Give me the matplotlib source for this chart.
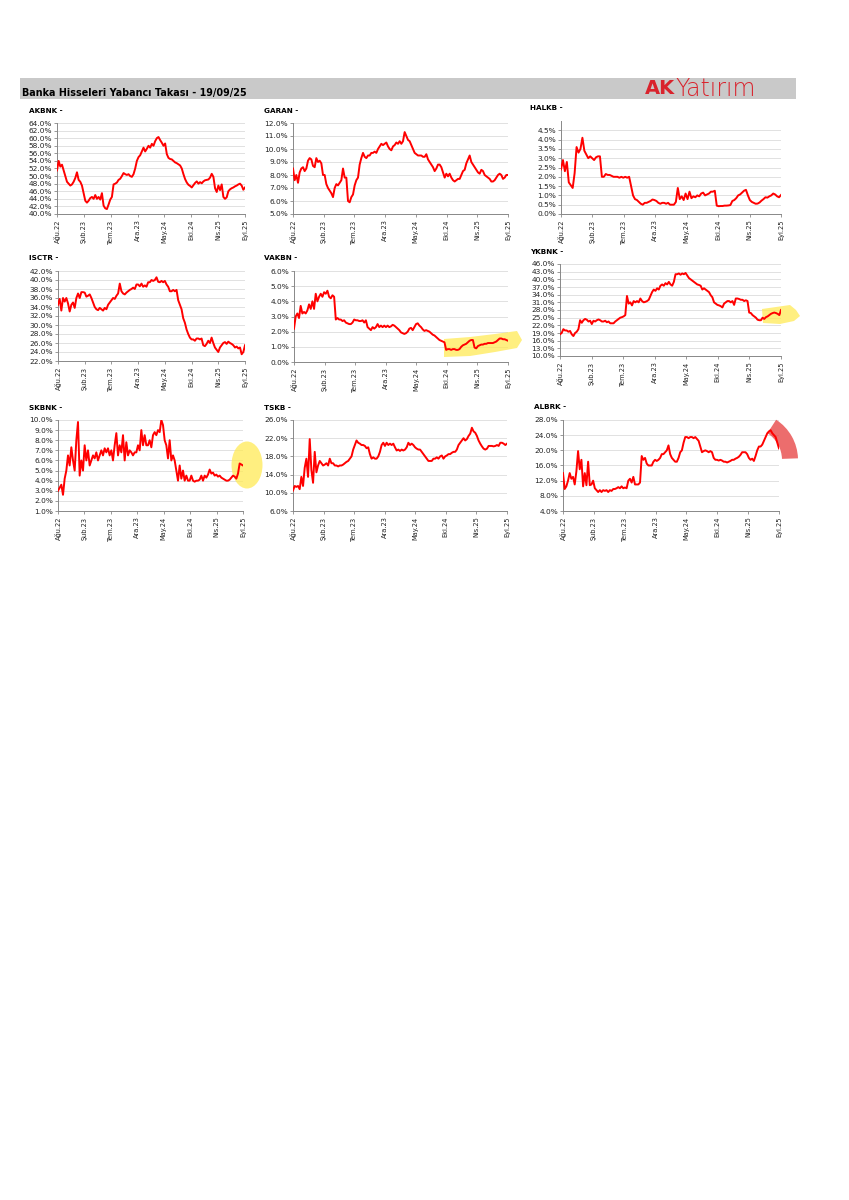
#!/usr/bin/env python3
"""Banka hisseleri yabanci takasi - 3x3 panel grafigi."""

import matplotlib

matplotlib.use("Agg")

import matplotlib.pyplot as plt
import pandas as pd
from matplotlib.patches import Ellipse, Polygon, Rectangle, Wedge
from matplotlib.ticker import FixedLocator, FuncFormatter
from matplotlib.transforms import Affine2D

W, H = 849, 1200
RED = "#FF0000"

START, END = "2022-08-19", "2025-09-19"
TICK_LABELS = ["Ağu.22", "Şub.23", "Tem.23", "Ara.23", "May.24", "Eki.24", "Nis.25", "Eyl.25"]

AKBNK = [51.5, 54, 52.5, 53, 51.5, 50, 48.5, 48, 47.5, 47.8, 48.5, 49.5, 51, 49, 48.5, 47.5,
         45.5, 43.5, 43, 43.5, 44.2, 44.5, 44, 45, 44, 44.5, 43.8, 45.5, 42.2, 41.5, 41.3, 42.5,
         43.8, 44.5, 47.8, 48, 48.3, 49, 49.3, 50, 50.8, 50.5, 50.3, 50.5, 50, 49.8, 50.5, 52,
         54, 55, 55.5, 56.5, 57.5, 56.5, 57.2, 58, 57.5, 58.5, 58, 59.2, 60, 60.3, 59.5, 58.8,
         58, 58.6, 55.8, 54.8, 54.5, 54.4, 54, 53.6, 53.4, 53.1, 52.8, 52, 50.5, 49.2, 48.3, 47.7,
         47.4, 47, 47.6, 48.2, 48.6, 48, 48.4, 48.1, 48.6, 48.9, 49, 49.1, 49.6, 50.6, 49.8, 46.8,
         45.8, 47.5, 46.3, 47.8, 44.5, 44, 44.4, 46, 46.5, 46.8, 47, 47.3, 47.5, 47.8, 48, 47.5,
         46.4, 47]

GARAN = [8.5, 7.6, 8.0, 7.4, 8.2, 8.5, 8.6, 8.3, 8.5, 9.1, 9.3, 9.2, 8.7, 8.6, 9.3, 9.0, 9.1,
         8.9, 8.0, 8.0, 7.3, 7.0, 6.8, 6.6, 6.3, 7.0, 7.3, 7.2, 7.4, 7.6, 8.5, 7.8, 7.8, 6.0, 5.9,
         6.3, 6.5, 7.2, 7.6, 7.8, 8.8, 9.3, 9.7, 9.4, 9.3, 9.5, 9.5, 9.7, 9.7, 9.8, 9.7, 10.0,
         10.2, 10.4, 10.3, 10.4, 10.5, 10.2, 10.0, 9.9, 10.2, 10.3, 10.5, 10.4, 10.6, 10.4, 10.6,
         11.3, 11.0, 10.7, 10.6, 10.3, 10.0, 9.7, 9.6, 9.5, 9.5, 9.5, 9.4, 9.4, 9.6, 9.2, 9.0,
         8.8, 8.6, 8.3, 8.5, 8.8, 8.8, 8.6, 8.2, 7.8, 8.1, 7.9, 8.1, 7.8, 7.6, 7.5, 7.6, 7.7, 7.7,
         8.0, 8.3, 8.4, 8.9, 9.2, 9.5, 9.0, 8.8, 8.6, 8.4, 8.2, 8.1, 8.4, 8.3, 8.0, 7.9, 7.8, 7.7,
         7.5, 7.5, 7.6, 7.8, 8.0, 8.1, 8.0, 7.7, 7.8, 8.0, 8.0]

HALKB = [2.4, 2.9, 2.3, 2.8, 1.7, 1.55, 1.4, 2.2, 3.6, 3.3, 3.5, 4.1, 3.4, 3.2, 3.0, 3.1, 3.0,
         2.9, 3.05, 3.1, 3.1, 2.0, 2.0, 2.15, 2.1, 2.1, 2.05, 2.0, 2.0, 2.0, 1.95, 2.0, 1.95, 2.0,
         1.95, 2.0, 1.5, 1.0, 0.8, 0.75, 0.65, 0.55, 0.5, 0.6, 0.6, 0.65, 0.7, 0.78, 0.75, 0.7,
         0.6, 0.55, 0.6, 0.6, 0.55, 0.6, 0.5, 0.5, 0.5, 0.65, 1.4, 0.8, 0.95, 0.75, 1.1, 0.8, 1.2,
         0.85, 0.95, 0.9, 1.0, 0.95, 1.1, 1.15, 1.0, 1.05, 1.1, 1.2, 1.2, 1.25, 0.45, 0.42, 0.43,
         0.43, 0.45, 0.45, 0.46, 0.48, 0.7, 0.75, 0.85, 1.0, 1.05, 1.15, 1.25, 1.3, 1.0, 0.75,
         0.65, 0.6, 0.55, 0.56, 0.62, 0.72, 0.8, 0.9, 0.88, 0.95, 1.0, 1.1, 1.05, 0.95, 0.9, 1.02]

ISCTR = [34.5, 35.8, 33.2, 36.0, 35.2, 36.0, 34.8, 33.0, 34.5, 35.0, 33.8, 36.0, 37.0, 36.0,
         37.3, 37.3, 37.2, 36.3, 36.5, 36.8, 36.0, 35.0, 34.0, 33.5, 33.3, 33.8, 33.5, 33.2, 33.8,
         33.5, 34.5, 35.0, 35.5, 36.0, 35.8, 36.5, 37.0, 39.2, 37.5, 37.0, 36.8, 37.2, 37.5, 37.8,
         38.0, 38.3, 38.0, 39.0, 39.0, 38.6, 39.2, 38.5, 38.8, 38.5, 39.5, 39.5, 40.0, 39.8, 40.0,
         40.6, 39.6, 39.5, 39.8, 39.5, 39.8, 39.0, 38.5, 37.5, 37.5, 37.8, 37.5, 37.8, 35.5, 34.5,
         33.5, 31.5, 30.5, 29.0, 28.0, 27.2, 26.8, 26.8, 26.5, 27.0, 27.0, 26.8, 27.0, 25.5, 25.3,
         25.8, 26.5, 26.0, 27.2, 26.0, 25.0, 24.5, 24.0, 25.0, 25.5, 26.0, 26.2, 25.8, 26.3, 26.0,
         25.8, 25.5, 25.0, 25.2, 24.8, 25.0, 23.5, 24.0, 25.5]

VAKBN = [2.2, 3.0, 3.2, 2.9, 3.7, 3.2, 3.3, 3.2, 3.4, 3.8, 3.5, 4.0, 3.5, 4.5, 4.0, 4.3, 4.5,
         4.3, 4.6, 4.5, 4.7, 4.3, 4.2, 4.4, 4.3, 2.8, 2.9, 2.8, 2.8, 2.7, 2.75, 2.6, 2.55, 2.5,
         2.5, 2.6, 2.8, 2.75, 2.75, 2.7, 2.7, 2.75, 2.6, 2.75, 2.3, 2.2, 2.1, 2.3, 2.2, 2.3, 2.5,
         2.3, 2.4, 2.3, 2.4, 2.3, 2.4, 2.3, 2.35, 2.45, 2.4, 2.3, 2.2, 2.1, 1.95, 1.9, 1.85, 1.9,
         2.0, 2.2, 2.25, 2.1, 2.3, 2.5, 2.55, 2.4, 2.3, 2.15, 2.05, 2.1, 2.05, 2.0, 1.9, 1.8, 1.75,
         1.65, 1.55, 1.45, 1.4, 1.35, 1.3, 0.8, 0.85, 0.85, 0.8, 0.85, 0.85, 0.8, 0.8, 0.85, 1.0,
         1.1, 1.15, 1.2, 1.3, 1.4, 1.45, 1.45, 0.95, 0.9, 1.05, 1.1, 1.15, 1.15, 1.2, 1.2, 1.25,
         1.25, 1.25, 1.25, 1.3, 1.35, 1.45, 1.55, 1.55, 1.5, 1.5, 1.45, 1.4]

YKBNK = [18.5, 19.0, 20.5, 20.0, 20.0, 19.5, 19.8, 18.5, 17.8, 19.0, 19.5, 20.5, 24.0, 23.0,
         24.0, 24.5, 24.2, 23.5, 23.8, 22.5, 23.8, 23.5, 24.0, 24.3, 24.0, 23.5, 23.5, 23.8, 23.2,
         23.5, 22.8, 22.8, 22.8, 23.5, 24.0, 24.5, 25.0, 25.2, 25.5, 26.0, 33.5, 30.5, 31.0, 29.8,
         31.5, 31.0, 31.5, 31.0, 32.5, 31.5, 31.0, 31.2, 31.5, 32.0, 33.5, 35.0, 36.0, 35.5, 36.5,
         36.0, 37.5, 38.0, 37.5, 38.5, 38.0, 39.0, 38.0, 37.5, 39.0, 42.0, 42.0, 42.3, 41.8, 42.3,
         42.0, 42.5, 41.5, 40.5, 40.0, 39.5, 39.0, 38.5, 38.0, 37.8, 37.5, 36.0, 36.5, 36.0, 35.5,
         35.0, 33.8, 33.0, 31.0, 30.5, 30.0, 29.8, 29.5, 29.0, 30.5, 31.0, 31.5, 31.5, 31.0, 31.5,
         30.0, 32.5, 32.5, 32.3, 32.0, 32.0, 31.5, 31.8, 31.5, 27.0, 26.8, 26.0, 25.5, 25.0, 24.2,
         24.0, 24.0, 25.0, 24.5, 25.2, 25.5, 26.0, 26.5, 26.8, 27.0, 26.8, 26.5, 26.0, 28.0]

SKBNK = [3.0, 3.3, 3.6, 2.6, 4.2, 5.0, 6.5, 5.5, 7.3, 6.0, 5.0, 8.0, 9.8, 4.5, 6.0, 5.0, 7.5,
         6.0, 7.0, 5.5, 6.0, 6.5, 6.2, 6.8, 6.0, 6.5, 7.0, 6.5, 7.2, 6.8, 7.2, 6.5, 7.0, 6.0, 7.5,
         8.7, 6.5, 7.5, 6.8, 8.5, 6.0, 7.8, 6.5, 7.0, 6.8, 6.5, 6.8, 6.8, 7.5, 7.0, 9.0, 7.5, 8.5,
         7.5, 7.5, 8.0, 7.3, 8.5, 8.8, 8.5, 9.0, 8.8, 10.0, 9.5, 8.0, 7.5, 6.2, 8.0, 6.0, 6.5, 6.0,
         5.0, 4.0, 5.5, 4.2, 5.0, 4.0, 4.5, 4.0, 4.0, 4.5, 4.0, 3.9, 4.0, 4.0, 4.1, 4.5, 4.0, 4.5,
         4.3, 4.6, 5.1, 4.7, 4.8, 4.5, 4.6, 4.4, 4.5, 4.3, 4.2, 4.1, 4.0, 4.0, 4.1, 4.3, 4.5, 4.4,
         4.2, 4.7, 5.7, 5.6, 5.5]

TSKB = [10.5, 11.5, 11.3, 11.5, 10.8, 13.5, 11.5, 15.5, 17.5, 13.5, 21.8, 15.0, 12.2, 19.0,
        14.5, 16.0, 17.0, 16.5, 16.0, 16.2, 16.5, 16.0, 17.5, 16.5, 16.5, 16.0, 16.0, 15.8, 16.0,
        16.0, 16.2, 16.5, 16.8, 17.0, 17.5, 18.0, 19.5, 20.5, 21.5, 21.0, 20.8, 20.5, 20.5, 20.3,
        19.8, 20.0, 18.5, 17.5, 17.8, 17.5, 17.5, 18.0, 19.0, 20.5, 21.0, 20.3, 21.0, 20.5, 20.8,
        20.5, 20.8, 20.0, 19.3, 19.5, 19.2, 19.5, 19.3, 19.5, 20.0, 21.0, 20.5, 20.8, 20.5, 20.0,
        19.7, 19.5, 19.5, 19.0, 18.5, 18.0, 17.5, 17.0, 17.0, 17.0, 17.5, 17.5, 17.8, 17.5, 18.0,
        18.2, 17.5, 18.0, 18.2, 18.5, 18.5, 18.8, 19.0, 19.0, 19.5, 20.5, 21.0, 21.5, 22.0, 21.5,
        21.8, 22.5, 23.0, 24.3, 23.5, 23.2, 22.5, 21.5, 20.8, 20.2, 19.7, 19.5, 19.7, 20.3, 20.3,
        20.3, 20.2, 20.3, 20.5, 20.3, 21.0, 21.0, 20.8, 20.5, 20.8]

ALBRK = [14.0, 9.8, 10.5, 12.0, 14.0, 12.5, 13.0, 11.0, 14.5, 19.8, 15.0, 17.5, 10.5, 14.0,
         10.8, 17.0, 10.8, 11.0, 12.0, 10.0, 9.5, 9.0, 9.5, 9.0, 9.5, 9.3, 9.5, 9.0, 9.5, 9.3,
         9.8, 9.8, 10.0, 10.3, 10.0, 10.5, 10.0, 10.2, 10.0, 12.0, 12.5, 11.5, 13.0, 11.0, 11.0,
         11.0, 11.5, 18.5, 17.5, 18.0, 16.5, 16.0, 16.0, 16.0, 17.0, 17.5, 17.2, 17.5, 18.0, 19.0,
         19.0, 19.5, 20.0, 21.3, 19.0, 18.0, 17.5, 17.0, 17.0, 18.0, 19.5, 20.0, 22.0, 23.5, 23.5,
         23.2, 23.5, 23.5, 23.2, 23.5, 23.0, 22.5, 21.0, 19.5, 19.8, 20.0, 19.8, 19.5, 19.8, 19.5,
         18.0, 17.5, 17.5, 17.3, 17.5, 17.3, 17.0, 17.0, 16.8, 17.0, 17.2, 17.5, 17.5, 17.8, 18.0,
         18.3, 18.8, 19.5, 19.5, 19.5, 19.0, 18.0, 17.5, 17.8, 17.2, 18.5, 20.0, 21.0, 21.0, 21.5,
         22.5, 23.5, 24.5, 25.0, 25.3, 24.5, 24.0, 23.5, 22.0, 20.5]

# name, values, y-ticks, ylim, axes box in reference pixels (left, top, right, bottom), title pos
PANELS = [
    ("AKBNK", AKBNK, [40 + 2 * i for i in range(13)], (40, 64), (57, 123, 245, 214), (29, 111)),
    ("GARAN", GARAN, [5, 6, 7, 8, 9, 10, 11, 12], (5, 12), (293, 123, 508, 214), (264, 111)),
    ("HALKB", HALKB, [0.5 * i for i in range(10)], (0, 5), (561, 121, 781, 214), (530, 108)),
    ("ISCTR", ISCTR, [22 + 2 * i for i in range(11)], (22, 42), (58, 271, 245, 361), (29, 258)),
    ("VAKBN", VAKBN, [0, 1, 2, 3, 4, 5, 6], (0, 6), (294, 271, 508, 362), (264, 258)),
    ("YKBNK", YKBNK, [10 + 3 * i for i in range(13)], (10, 46), (560, 264, 781, 356), (530, 252)),
    ("SKBNK", SKBNK, [1, 2, 3, 4, 5, 6, 7, 8, 9, 10], (1, 10), (58, 420, 243, 511), (29, 408)),
    ("TSKB", TSKB, [6, 10, 14, 18, 22, 26], (6, 26), (293, 420, 507, 511), (264, 408)),
    ("ALBRK", ALBRK, [4, 8, 12, 16, 20, 24, 28], (4, 28), (563, 420, 779, 511), (534, 407)),
]


def draw_panel(fig, name, values, yticks, ylim, box, title_pos):
    left, top, right, bottom = box
    ax = fig.add_axes([left / W, 1 - bottom / H, (right - left) / W, (bottom - top) / H])

    dates = pd.date_range(START, END, periods=len(values))
    ax.plot(dates, values, color=RED, lw=1.4, zorder=3, solid_joinstyle="round")

    ax.set_xlim(pd.Timestamp(START), pd.Timestamp(END))
    ax.set_ylim(*ylim)
    ax.yaxis.set_major_locator(FixedLocator(yticks))
    ax.yaxis.set_major_formatter(FuncFormatter(lambda v, _: f"{v:.1f}%"))
    ax.set_xticks(pd.date_range(START, END, periods=len(TICK_LABELS)))
    ax.set_xticklabels(TICK_LABELS, rotation=90, fontsize=4.8, color="#222222")
    ax.tick_params(axis="y", labelsize=5.3, length=2, width=0.6, pad=1.5,
                   color="#888888", labelcolor="#222222")
    ax.tick_params(axis="x", length=2.5, width=0.6, pad=1.5, color="#888888")

    ax.grid(axis="y", color="#DCDCDC", lw=0.6)
    ax.set_axisbelow(True)
    for side in ("top", "right"):
        ax.spines[side].set_visible(False)
    for side in ("left", "bottom"):
        ax.spines[side].set_color("#888888")
        ax.spines[side].set_linewidth(0.7)

    fig.text(title_pos[0] / W, 1 - title_pos[1] / H, f"{name} -", fontsize=5.2,
             fontweight="bold", va="center", ha="left")
    return ax


def main():
    fig = plt.figure(figsize=(W / 100, H / 100), dpi=100)
    # reference-pixel coordinates (origin top-left)
    px = Affine2D().scale(1 / W, -1 / H).translate(0, 1) + fig.transFigure

    fig.patches.append(Rectangle((20, 78), 776, 21, transform=px, facecolor="#C9C9C9",
                                 edgecolor="none", zorder=0))
    fig.text(22 / W, 1 - 93 / H, "Banka Hisseleri Yabancı Takası - 19/09/25",
             fontsize=6.9, fontweight="bold", va="center", ha="left")
    fig.text(645 / W, 1 - 88.5 / H, "AK", fontsize=14, fontweight="bold", color="#D9232D",
             va="center", ha="left")
    fig.text(675 / W, 1 - 88.5 / H, "Yatırım", fontsize=17, fontweight="light",
             color="#D9232D", va="center", ha="left")

    axes = {}
    for name, values, yticks, ylim, box, title_pos in PANELS:
        axes[name] = draw_panel(fig, name, values, yticks, ylim, box, title_pos)

    yellow = dict(facecolor="#FFEA55", edgecolor="none", alpha=0.75, transform=px,
                  clip_on=False, zorder=2)
    axes["VAKBN"].add_patch(Polygon(
        [(444, 339), (470, 337), (495, 334), (517, 331), (522, 340), (517, 348),
         (495, 352), (470, 356), (444, 357)], **yellow))
    axes["YKBNK"].add_patch(Polygon(
        [(762, 309), (776, 307), (790, 305), (796, 310), (800, 316), (794, 321),
         (780, 324), (763, 323)], **yellow))
    axes["SKBNK"].add_patch(Ellipse((247, 465), 31, 47, **yellow))
    axes["ALBRK"].add_patch(Wedge((750, 460), 48, -57, -2, width=16, facecolor="#E84848",
                                  edgecolor="none", alpha=0.8, transform=px,
                                  clip_on=False, zorder=2))

    fig.savefig("out.png", dpi=100)
    plt.close(fig)


if __name__ == "__main__":
    main()
